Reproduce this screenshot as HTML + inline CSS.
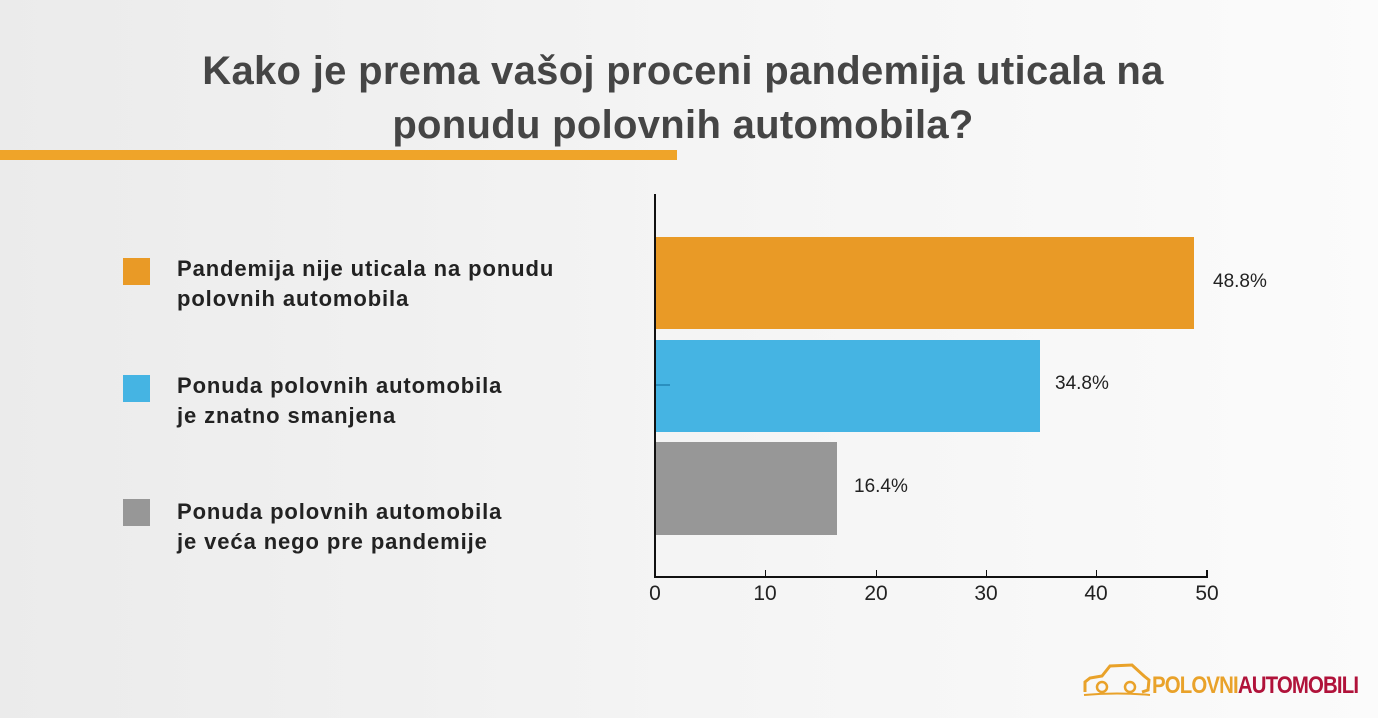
<!DOCTYPE html>
<html><head><meta charset="utf-8"><style>
html,body{margin:0;padding:0}
body{width:1378px;height:718px;position:relative;overflow:hidden;font-family:"Liberation Sans",sans-serif;background:linear-gradient(90deg,#ebebeb 0%,#f4f4f4 50%,#fbfbfb 100%)}
.t{position:absolute;left:0;width:1366px;text-align:center;font-weight:bold;color:#454545;font-size:40px;line-height:54px;top:44px;letter-spacing:0.3px}
.bar{position:absolute;left:656px}
.lbl{position:absolute;font-size:19px;color:#222}
.sq{position:absolute;left:123px;width:27px;height:27px}
.lt{position:absolute;left:177px;font-size:22px;font-weight:bold;color:#222;line-height:30px;letter-spacing:0.9px}
.tk{position:absolute;top:582px;font-size:21px;color:#222;width:40px;text-align:center}
</style></head><body>
<div class="t">Kako je prema vašoj proceni pandemija uticala na<br>ponudu polovnih automobila?</div>
<div style="position:absolute;left:0;top:150px;width:677px;height:10px;background:#efa429"></div>

<div class="sq" style="top:258px;background:#e99a26"></div>
<div class="lt" style="top:254px">Pandemija nije uticala na ponudu<br>polovnih automobila</div>
<div class="sq" style="top:375px;background:#45b4e3"></div>
<div class="lt" style="top:371px">Ponuda polovnih automobila<br>je znatno smanjena</div>
<div class="sq" style="top:499px;background:#979797"></div>
<div class="lt" style="top:497px">Ponuda polovnih automobila<br>je veća nego pre pandemije</div>

<div class="bar" style="top:237px;width:538px;height:92px;background:#e99a26"></div>
<div class="bar" style="top:340px;width:384px;height:92px;background:#45b4e3"></div>
<div class="bar" style="top:442px;width:181px;height:93px;background:#979797"></div>
<div style="position:absolute;left:656px;top:384px;width:14px;height:2px;background:#2a8fbf"></div>
<div class="lbl" style="left:1213px;top:271px">48.8%</div>
<div class="lbl" style="left:1055px;top:373px">34.8%</div>
<div class="lbl" style="left:854px;top:476px">16.4%</div>

<div style="position:absolute;left:654px;top:194px;width:2px;height:384px;background:#111"></div>
<div style="position:absolute;left:654px;top:576px;width:554px;height:2px;background:#111"></div>
<div style="position:absolute;left:765px;top:570px;width:1px;height:7px;background:#111"></div>
<div style="position:absolute;left:876px;top:570px;width:1px;height:7px;background:#111"></div>
<div style="position:absolute;left:986px;top:570px;width:1px;height:7px;background:#111"></div>
<div style="position:absolute;left:1096px;top:570px;width:1px;height:7px;background:#111"></div>
<div style="position:absolute;left:1206px;top:570px;width:2px;height:7px;background:#111"></div>
<div class="tk" style="left:635px">0</div>
<div class="tk" style="left:745px">10</div>
<div class="tk" style="left:856px">20</div>
<div class="tk" style="left:966px">30</div>
<div class="tk" style="left:1076px">40</div>
<div class="tk" style="left:1187px">50</div>

<svg style="position:absolute;left:1082px;top:660px" width="70" height="38" viewBox="0 0 70 38">
<path d="M3 32 L3 22 L8 18 L20 16 L28 6 L50 5 L62 16 L67 20 L66 30 L60 32" fill="none" stroke="#e9a22a" stroke-width="3"/>
<circle cx="20" cy="27" r="5" fill="none" stroke="#e9a22a" stroke-width="2.5"/>
<circle cx="48" cy="27" r="5" fill="none" stroke="#e9a22a" stroke-width="2.5"/>
<path d="M2 35 Q35 32 68 35" fill="none" stroke="#e9a22a" stroke-width="2"/>
</svg>
<div style="position:absolute;left:1152px;top:672px;font-size:24px;font-weight:bold;letter-spacing:-1px;transform:scaleX(0.85);transform-origin:left"><span style="color:#e9a22a">POLOVNI</span><span style="color:#b0123a">AUTOMOBILI</span></div>
</body></html>
